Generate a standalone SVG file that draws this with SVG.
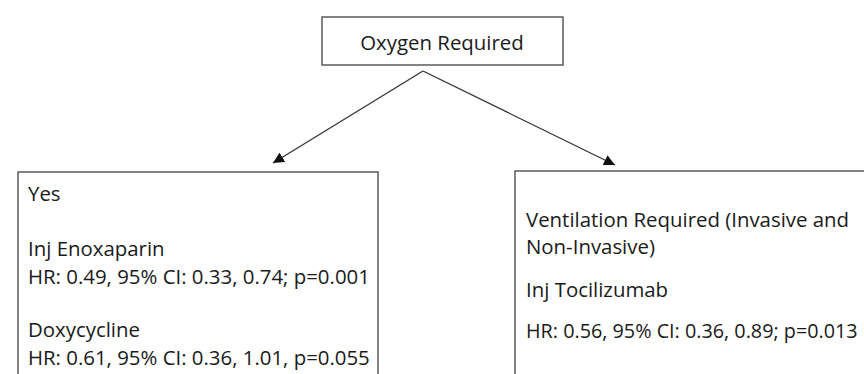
<svg xmlns="http://www.w3.org/2000/svg" width="864" height="374" viewBox="0 0 864 374">
<style>
.box{fill:#fff;stroke:#5a5a5a;stroke-width:1.5}
.t{font-family:"Open Sans","Liberation Sans",sans-serif;font-size:20.4px;fill:#1a1a1a}
.s{font-size:19.8px}
.c{stroke:#333;stroke-width:1.3;fill:none}
</style>
<defs>
<marker id="ah" viewBox="0 0 10 10" refX="10" refY="5" markerWidth="11" markerHeight="11" markerUnits="userSpaceOnUse" orient="auto">
<path d="M0,0 L10,5 L0,10 z" fill="#111"/>
</marker>
</defs>
<rect width="864" height="374" fill="#fff"/>
<g id="connectors">
<line class="c" x1="423" y1="71" x2="273" y2="163" marker-end="url(#ah)"/>
<line class="c" x1="423" y1="71" x2="615" y2="165" marker-end="url(#ah)"/>
</g>
<g id="node-oxygen">
<rect class="box" x="322" y="17" width="241" height="48"/>
<text class="t" x="442" y="50" text-anchor="middle">Oxygen Required</text>
</g>
<g id="node-yes">
<rect class="box" x="18" y="172" width="360" height="210"/>
<text class="t" x="28" y="201">Yes</text>
<text class="t" x="28" y="256">Inj Enoxaparin</text>
<text class="t" x="28" y="284">HR: 0.49, 95% CI: 0.33, 0.74; p=0.001</text>
<text class="t" x="28" y="337">Doxycycline</text>
<text class="t" x="28" y="365">HR: 0.61, 95% CI: 0.36, 1.01, p=0.055</text>
</g>
<g id="node-ventilation">
<rect class="box" x="515" y="171" width="360" height="210"/>
<text class="t" x="526" y="227">Ventilation Required (Invasive and</text>
<text class="t" x="526" y="254">Non-Invasive)</text>
<text class="t" x="526" y="297">Inj Tocilizumab</text>
<text class="t s" x="526" y="338">HR: 0.56, 95% CI: 0.36, 0.89; p=0.013</text>
</g>
</svg>
